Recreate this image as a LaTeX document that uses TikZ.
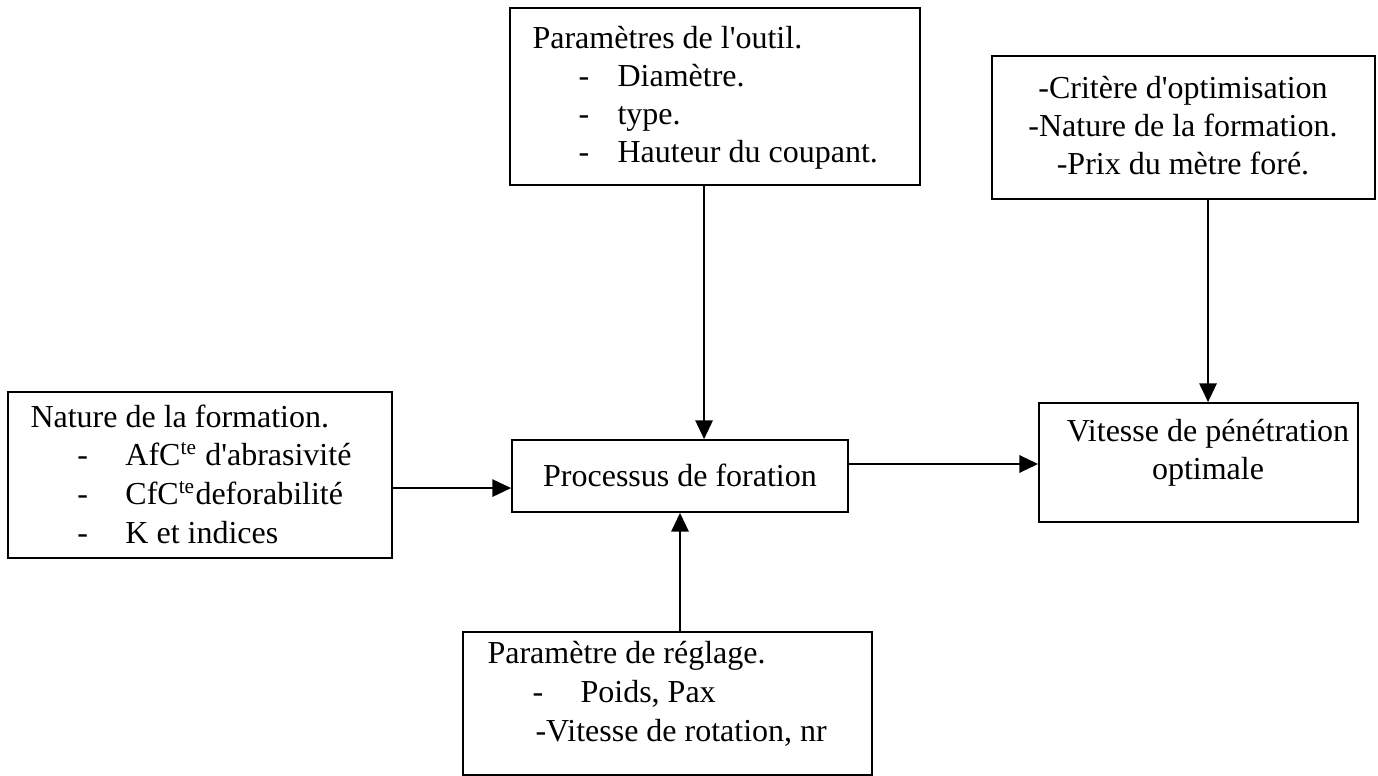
\documentclass[tikz,border=0pt]{standalone}
\usepackage{fontspec}
\setmainfont{Liberation Serif}
\usetikzlibrary{arrows.meta, fit, calc}

\newcommand{\tiret}[2]{\makebox[#2][l]{\hspace*{#1}-}}

\begin{document}
\begin{tikzpicture}[
    x=0.375pt, y=-0.375pt,
    every node/.style={font=\fontsize{12}{14.2}\selectfont},
    boite/.style={
        rectangle, draw=black,
        line width=0.7pt, inner sep=0pt
    },
    txt/.style={
        inner sep=0pt,
        execute at begin node=\strut
    },
    fleche/.style={
        -{Triangle[length=7pt,width=6.5pt]},
        line width=0.7pt
    }
]
\useasboundingbox (0,0) rectangle (1378,776);

%% ── Boxes ───────────────────────────────────────────────────────────
\node[boite, fit={(8,392) (392,558)}]    (nf)   {};
\node[boite, fit={(512,440) (848,512)}]  (proc) {};
\node[boite, fit={(510,8) (920,185)}]    (po)   {};
\node[boite, fit={(992,56) (1375,199)}]  (co)   {};
\node[boite, fit={(1039,403) (1358,522)}] (vp)  {};
\node[boite, fit={(463,632) (872,775)}]  (pr)   {};

%% ── Texts ───────────────────────────────────────────────────────────
\node[txt, anchor=north west, align=left,
      font=\fontsize{12}{14.6}\selectfont] (nfT) at (30,404)
    {Nature de la formation.\\
     \tiret{17.6pt}{35.6pt}AfC\textsuperscript{te} d\textquotesingle abrasivité\\
     \tiret{17.6pt}{35.6pt}CfC\textsuperscript{te}deforabilité\\
     \tiret{17.6pt}{35.6pt}K et indices};

\node[txt, anchor=north west, align=left] (poT) at (532,26)
    {Paramètres de l\textquotesingle outil.\\
     \tiret{17.3pt}{31.9pt}Diamètre.\\
     \tiret{17.3pt}{31.9pt}type.\\
     \tiret{17.3pt}{31.9pt}Hauteur du coupant.};

\node[txt, anchor=north west, align=left,
      font=\fontsize{12}{14.5}\selectfont] (prT) at (487,641)
    {Paramètre de réglage.\\
     \tiret{16.9pt}{34.9pt}Poids, Pax\\
     \hspace*{18pt}-Vitesse de rotation, nr};

\node[txt, anchor=north, align=center] (coT) at (1183,76)
    {-Critère d\textquotesingle optimisation\\
     -Nature de la formation.\\
     -Prix du mètre foré.};

\node[txt, anchor=north, align=center] (vpT) at (1208,419)
    {Vitesse de pénétration\\ optimale};

\node[txt, anchor=north] (procT) at (680,459) {Processus de foration};

%% ── Connectors ──────────────────────────────────────────────────────
\draw[fleche] ([yshift=-4.9pt]nf.east) coordinate (a1) -- (a1 -| proc.west);
\draw[fleche] ([xshift=-4.1pt]po.south) coordinate (a2) -- (a2 |- proc.north);
\draw[fleche] (pr.north -| proc.south) -- (proc.south);
\draw[fleche] ([yshift=4.5pt]proc.east) coordinate (a3) -- (a3 -| vp.west);
\draw[fleche] ([xshift=9.2pt]co.south) coordinate (a4) -- (a4 |- vp.north);

\end{tikzpicture}
\end{document}
